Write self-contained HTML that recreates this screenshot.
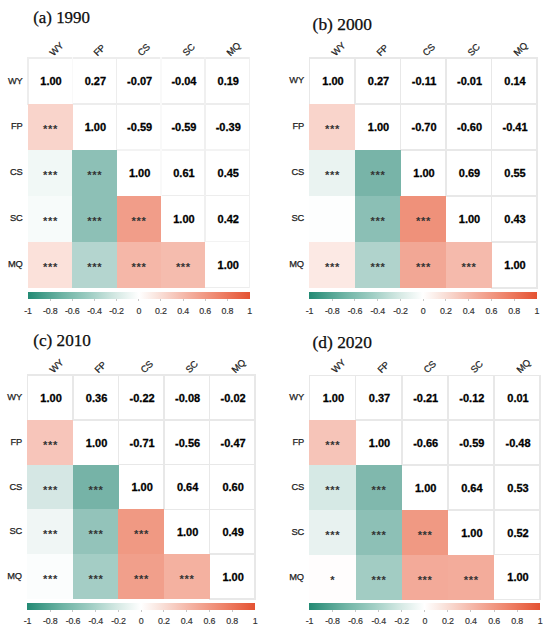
<!DOCTYPE html>
<html><head><meta charset="utf-8"><title>Correlation matrices</title>
<style>
html,body{margin:0;padding:0;background:#fff;}
body{width:550px;height:635px;position:relative;overflow:hidden;font-family:"Liberation Sans",sans-serif;}
.a{position:absolute;}
.t{position:absolute;font-family:"Liberation Serif",serif;font-size:17px;-webkit-text-stroke:0.25px #000;color:#111;white-space:nowrap;line-height:1;}
.c{position:absolute;}
.n{position:absolute;font-weight:bold;font-size:11px;color:#000;-webkit-text-stroke:0.28px #000;text-align:center;line-height:12px;}
.s{position:absolute;font-weight:bold;font-size:11.2px;color:#333;letter-spacing:0.6px;text-indent:0.6px;text-align:center;line-height:12px;}
.rl{position:absolute;font-size:9.3px;color:#222;-webkit-text-stroke:0.25px #222;text-align:right;line-height:11px;width:30px;letter-spacing:-0.2px;}
.cl{position:absolute;font-size:9.4px;color:#222;-webkit-text-stroke:0.25px #222;line-height:11px;white-space:nowrap;transform:rotate(-45deg);transform-origin:0 100%;letter-spacing:-0.2px;}
.hl{position:absolute;height:1.6px;background:#e8e8e8;}
.vl{position:absolute;width:1.6px;background:#e8e8e8;}
.cb{position:absolute;}
.tk{position:absolute;width:1px;height:2px;background:#c8c8c8;}
.lb{position:absolute;font-size:8.9px;color:#303030;-webkit-text-stroke:0.15px #303030;text-align:center;width:30px;line-height:11px;letter-spacing:-0.2px;}
</style></head><body>

<div class="t" style="left:33.20px;top:10.46px;font-size:16.90px;">(a) 1990</div>
<div class="hl" style="left:27.20px;top:57.20px;width:223.10px;background:#ededed;"></div>
<div class="hl" style="left:71.50px;top:103.10px;width:178.80px;background:#ededed;"></div>
<div class="hl" style="left:115.80px;top:149.00px;width:134.50px;background:#f3f3f3;"></div>
<div class="hl" style="left:160.10px;top:194.90px;width:90.20px;background:#ededed;"></div>
<div class="hl" style="left:204.40px;top:240.80px;width:45.90px;background:#f3f3f3;"></div>
<div class="hl" style="left:204.40px;top:286.70px;width:45.90px;background:#ededed;"></div>
<div class="vl" style="left:27.20px;top:57.20px;height:47.50px;background:#ededed;"></div>
<div class="vl" style="left:71.50px;top:57.20px;height:47.50px;background:#f9f9f9;"></div>
<div class="vl" style="left:115.80px;top:57.20px;height:93.40px;background:#ededed;"></div>
<div class="vl" style="left:160.10px;top:57.20px;height:139.30px;background:#f9f9f9;"></div>
<div class="vl" style="left:204.40px;top:57.20px;height:185.20px;background:#f0f0f0;"></div>
<div class="vl" style="left:248.70px;top:57.20px;height:231.10px;background:#f0f0f0;"></div>
<div class="c" style="left:28.00px;top:103.90px;width:44.60px;height:46.20px;background:rgb(249,212,203);"></div>
<div class="c" style="left:28.00px;top:149.80px;width:44.60px;height:46.20px;background:rgb(241,248,246);"></div>
<div class="c" style="left:72.30px;top:149.80px;width:44.60px;height:46.20px;background:rgb(141,192,182);"></div>
<div class="c" style="left:28.00px;top:195.70px;width:44.60px;height:46.20px;background:rgb(247,251,250);"></div>
<div class="c" style="left:72.30px;top:195.70px;width:44.60px;height:46.20px;background:rgb(141,192,182);"></div>
<div class="c" style="left:116.60px;top:195.70px;width:44.60px;height:46.20px;background:rgb(241,157,137);"></div>
<div class="c" style="left:28.00px;top:241.60px;width:44.60px;height:46.20px;background:rgb(251,225,218);"></div>
<div class="c" style="left:72.30px;top:241.60px;width:44.60px;height:46.20px;background:rgb(180,213,207);"></div>
<div class="c" style="left:116.60px;top:241.60px;width:44.60px;height:46.20px;background:rgb(245,183,168);"></div>
<div class="c" style="left:160.90px;top:241.60px;width:44.60px;height:46.20px;background:rgb(245,188,174);"></div>
<div class="n" style="left:28.90px;top:75.35px;width:44.30px;">1.00</div>
<div class="n" style="left:73.20px;top:75.35px;width:44.30px;">0.27</div>
<div class="n" style="left:117.50px;top:75.35px;width:44.30px;">-0.07</div>
<div class="n" style="left:161.80px;top:75.35px;width:44.30px;">-0.04</div>
<div class="n" style="left:206.10px;top:75.35px;width:44.30px;">0.19</div>
<div class="s" style="left:28.00px;top:123.45px;width:44.30px;">***</div>
<div class="n" style="left:73.20px;top:121.25px;width:44.30px;">1.00</div>
<div class="n" style="left:117.50px;top:121.25px;width:44.30px;">-0.59</div>
<div class="n" style="left:161.80px;top:121.25px;width:44.30px;">-0.59</div>
<div class="n" style="left:206.10px;top:121.25px;width:44.30px;">-0.39</div>
<div class="s" style="left:28.00px;top:169.35px;width:44.30px;">***</div>
<div class="s" style="left:72.30px;top:169.35px;width:44.30px;">***</div>
<div class="n" style="left:117.50px;top:167.15px;width:44.30px;">1.00</div>
<div class="n" style="left:161.80px;top:167.15px;width:44.30px;">0.61</div>
<div class="n" style="left:206.10px;top:167.15px;width:44.30px;">0.45</div>
<div class="s" style="left:28.00px;top:215.25px;width:44.30px;">***</div>
<div class="s" style="left:72.30px;top:215.25px;width:44.30px;">***</div>
<div class="s" style="left:116.60px;top:215.25px;width:44.30px;">***</div>
<div class="n" style="left:161.80px;top:213.05px;width:44.30px;">1.00</div>
<div class="n" style="left:206.10px;top:213.05px;width:44.30px;">0.42</div>
<div class="s" style="left:28.00px;top:261.15px;width:44.30px;">***</div>
<div class="s" style="left:72.30px;top:261.15px;width:44.30px;">***</div>
<div class="s" style="left:116.60px;top:261.15px;width:44.30px;">***</div>
<div class="s" style="left:160.90px;top:261.15px;width:44.30px;">***</div>
<div class="n" style="left:206.10px;top:258.95px;width:44.30px;">1.00</div>
<div class="rl" style="left:-7.50px;top:75.55px;">WY</div>
<div class="rl" style="left:-7.50px;top:121.45px;">FP</div>
<div class="rl" style="left:-7.50px;top:167.35px;">CS</div>
<div class="rl" style="left:-7.50px;top:213.25px;">SC</div>
<div class="rl" style="left:-7.50px;top:259.15px;">MQ</div>
<div class="cl" style="left:54.75px;top:47.10px;">WY</div>
<div class="cl" style="left:99.05px;top:47.10px;">FP</div>
<div class="cl" style="left:143.35px;top:47.10px;">CS</div>
<div class="cl" style="left:187.65px;top:47.10px;">SC</div>
<div class="cl" style="left:231.95px;top:47.10px;">MQ</div>
<div class="cb" style="left:28.00px;top:292.00px;width:221.50px;height:7.00px;background:linear-gradient(to right,rgb(35,138,116) 0%,rgb(75,160,142) 8%,rgb(112,181,166) 16%,rgb(160,206,196) 28%,rgb(215,234,229) 40%,#fff 50%,rgb(250,232,226) 57%,rgb(244,178,162) 72%,rgb(238,128,102) 87%,rgb(228,82,50) 100%);"></div>
<div class="lb" style="left:13.00px;top:305.50px;">-1</div>
<div class="tk" style="left:49.65px;top:299.00px;"></div>
<div class="lb" style="left:35.15px;top:305.50px;">-0.8</div>
<div class="tk" style="left:71.80px;top:299.00px;"></div>
<div class="lb" style="left:57.30px;top:305.50px;">-0.6</div>
<div class="tk" style="left:93.95px;top:299.00px;"></div>
<div class="lb" style="left:79.45px;top:305.50px;">-0.4</div>
<div class="tk" style="left:116.10px;top:299.00px;"></div>
<div class="lb" style="left:101.60px;top:305.50px;">-0.2</div>
<div class="tk" style="left:138.25px;top:299.00px;"></div>
<div class="lb" style="left:123.75px;top:305.50px;">0</div>
<div class="tk" style="left:160.40px;top:299.00px;"></div>
<div class="lb" style="left:145.90px;top:305.50px;">0.2</div>
<div class="tk" style="left:182.55px;top:299.00px;"></div>
<div class="lb" style="left:168.05px;top:305.50px;">0.4</div>
<div class="tk" style="left:204.70px;top:299.00px;"></div>
<div class="lb" style="left:190.20px;top:305.50px;">0.6</div>
<div class="tk" style="left:226.85px;top:299.00px;"></div>
<div class="lb" style="left:212.35px;top:305.50px;">0.8</div>
<div class="lb" style="left:234.50px;top:305.50px;">1</div>
<div class="t" style="left:312.60px;top:16.31px;font-size:17.40px;">(b) 2000</div>
<div class="hl" style="left:308.60px;top:57.00px;width:229.10px;background:#e8e8e8;"></div>
<div class="hl" style="left:354.10px;top:103.00px;width:183.60px;background:#e8e8e8;"></div>
<div class="hl" style="left:399.60px;top:149.00px;width:138.10px;background:#e8e8e8;"></div>
<div class="hl" style="left:445.10px;top:195.00px;width:92.60px;background:#e8e8e8;"></div>
<div class="hl" style="left:490.60px;top:241.00px;width:47.10px;background:#e8e8e8;"></div>
<div class="hl" style="left:490.60px;top:287.00px;width:47.10px;background:#e8e8e8;"></div>
<div class="vl" style="left:308.60px;top:57.00px;height:47.60px;background:#e8e8e8;"></div>
<div class="vl" style="left:354.10px;top:57.00px;height:47.60px;background:#e8e8e8;"></div>
<div class="vl" style="left:399.60px;top:57.00px;height:93.60px;background:#e8e8e8;"></div>
<div class="vl" style="left:445.10px;top:57.00px;height:139.60px;background:#e8e8e8;"></div>
<div class="vl" style="left:490.60px;top:57.00px;height:185.60px;background:#e8e8e8;"></div>
<div class="vl" style="left:536.10px;top:57.00px;height:231.60px;background:#e8e8e8;"></div>
<div class="c" style="left:309.40px;top:103.80px;width:45.80px;height:46.30px;background:rgb(249,212,203);"></div>
<div class="c" style="left:309.40px;top:149.80px;width:45.80px;height:46.30px;background:rgb(234,243,241);"></div>
<div class="c" style="left:354.90px;top:149.80px;width:45.80px;height:46.30px;background:rgb(120,180,168);"></div>
<div class="c" style="left:309.40px;top:195.80px;width:45.80px;height:46.30px;background:rgb(253,254,254);"></div>
<div class="c" style="left:354.90px;top:195.80px;width:45.80px;height:46.30px;background:rgb(139,191,181);"></div>
<div class="c" style="left:400.40px;top:195.80px;width:45.80px;height:46.30px;background:rgb(239,145,122);"></div>
<div class="c" style="left:309.40px;top:241.80px;width:45.80px;height:46.30px;background:rgb(252,233,228);"></div>
<div class="c" style="left:354.90px;top:241.80px;width:45.80px;height:46.30px;background:rgb(176,211,204);"></div>
<div class="c" style="left:400.40px;top:241.80px;width:45.80px;height:46.30px;background:rgb(242,167,149);"></div>
<div class="c" style="left:445.90px;top:241.80px;width:45.80px;height:46.30px;background:rgb(245,186,172);"></div>
<div class="n" style="left:310.30px;top:75.20px;width:45.50px;">1.00</div>
<div class="n" style="left:355.80px;top:75.20px;width:45.50px;">0.27</div>
<div class="n" style="left:401.30px;top:75.20px;width:45.50px;">-0.11</div>
<div class="n" style="left:446.80px;top:75.20px;width:45.50px;">-0.01</div>
<div class="n" style="left:492.30px;top:75.20px;width:45.50px;">0.14</div>
<div class="s" style="left:309.40px;top:123.40px;width:45.50px;">***</div>
<div class="n" style="left:355.80px;top:121.20px;width:45.50px;">1.00</div>
<div class="n" style="left:401.30px;top:121.20px;width:45.50px;">-0.70</div>
<div class="n" style="left:446.80px;top:121.20px;width:45.50px;">-0.60</div>
<div class="n" style="left:492.30px;top:121.20px;width:45.50px;">-0.41</div>
<div class="s" style="left:309.40px;top:169.40px;width:45.50px;">***</div>
<div class="s" style="left:354.90px;top:169.40px;width:45.50px;">***</div>
<div class="n" style="left:401.30px;top:167.20px;width:45.50px;">1.00</div>
<div class="n" style="left:446.80px;top:167.20px;width:45.50px;">0.69</div>
<div class="n" style="left:492.30px;top:167.20px;width:45.50px;">0.55</div>
<div class="s" style="left:354.90px;top:215.40px;width:45.50px;">***</div>
<div class="s" style="left:400.40px;top:215.40px;width:45.50px;">***</div>
<div class="n" style="left:446.80px;top:213.20px;width:45.50px;">1.00</div>
<div class="n" style="left:492.30px;top:213.20px;width:45.50px;">0.43</div>
<div class="s" style="left:309.40px;top:261.40px;width:45.50px;">***</div>
<div class="s" style="left:354.90px;top:261.40px;width:45.50px;">***</div>
<div class="s" style="left:400.40px;top:261.40px;width:45.50px;">***</div>
<div class="s" style="left:445.90px;top:261.40px;width:45.50px;">***</div>
<div class="n" style="left:492.30px;top:259.20px;width:45.50px;">1.00</div>
<div class="rl" style="left:273.90px;top:75.40px;">WY</div>
<div class="rl" style="left:273.90px;top:121.40px;">FP</div>
<div class="rl" style="left:273.90px;top:167.40px;">CS</div>
<div class="rl" style="left:273.90px;top:213.40px;">SC</div>
<div class="rl" style="left:273.90px;top:259.40px;">MQ</div>
<div class="cl" style="left:336.75px;top:46.90px;">WY</div>
<div class="cl" style="left:382.25px;top:46.90px;">FP</div>
<div class="cl" style="left:427.75px;top:46.90px;">CS</div>
<div class="cl" style="left:473.25px;top:46.90px;">SC</div>
<div class="cl" style="left:518.75px;top:46.90px;">MQ</div>
<div class="cb" style="left:309.40px;top:292.00px;width:227.50px;height:7.00px;background:linear-gradient(to right,rgb(35,138,116) 0%,rgb(75,160,142) 8%,rgb(112,181,166) 16%,rgb(160,206,196) 28%,rgb(215,234,229) 40%,#fff 50%,rgb(250,232,226) 57%,rgb(244,178,162) 72%,rgb(238,128,102) 87%,rgb(228,82,50) 100%);"></div>
<div class="lb" style="left:294.40px;top:305.50px;">-1</div>
<div class="tk" style="left:331.65px;top:299.00px;"></div>
<div class="lb" style="left:317.15px;top:305.50px;">-0.8</div>
<div class="tk" style="left:354.40px;top:299.00px;"></div>
<div class="lb" style="left:339.90px;top:305.50px;">-0.6</div>
<div class="tk" style="left:377.15px;top:299.00px;"></div>
<div class="lb" style="left:362.65px;top:305.50px;">-0.4</div>
<div class="tk" style="left:399.90px;top:299.00px;"></div>
<div class="lb" style="left:385.40px;top:305.50px;">-0.2</div>
<div class="tk" style="left:422.65px;top:299.00px;"></div>
<div class="lb" style="left:408.15px;top:305.50px;">0</div>
<div class="tk" style="left:445.40px;top:299.00px;"></div>
<div class="lb" style="left:430.90px;top:305.50px;">0.2</div>
<div class="tk" style="left:468.15px;top:299.00px;"></div>
<div class="lb" style="left:453.65px;top:305.50px;">0.4</div>
<div class="tk" style="left:490.90px;top:299.00px;"></div>
<div class="lb" style="left:476.40px;top:305.50px;">0.6</div>
<div class="tk" style="left:513.65px;top:299.00px;"></div>
<div class="lb" style="left:499.15px;top:305.50px;">0.8</div>
<div class="lb" style="left:521.90px;top:305.50px;">1</div>
<div class="t" style="left:33.20px;top:332.09px;font-size:17.20px;">(c) 2010</div>
<div class="hl" style="left:26.60px;top:374.20px;width:229.20px;background:#e8e8e8;"></div>
<div class="hl" style="left:72.12px;top:419.00px;width:183.68px;background:#e8e8e8;"></div>
<div class="hl" style="left:117.64px;top:463.80px;width:138.16px;background:#e8e8e8;"></div>
<div class="hl" style="left:163.16px;top:508.60px;width:92.64px;background:#e8e8e8;"></div>
<div class="hl" style="left:208.68px;top:553.40px;width:47.12px;background:#e8e8e8;"></div>
<div class="hl" style="left:208.68px;top:598.20px;width:47.12px;background:#e8e8e8;"></div>
<div class="vl" style="left:26.60px;top:374.20px;height:46.40px;background:#e8e8e8;"></div>
<div class="vl" style="left:72.12px;top:374.20px;height:46.40px;background:#e8e8e8;"></div>
<div class="vl" style="left:117.64px;top:374.20px;height:91.20px;background:#e8e8e8;"></div>
<div class="vl" style="left:163.16px;top:374.20px;height:136.00px;background:#e8e8e8;"></div>
<div class="vl" style="left:208.68px;top:374.20px;height:180.80px;background:#e8e8e8;"></div>
<div class="vl" style="left:254.20px;top:374.20px;height:225.60px;background:#e8e8e8;"></div>
<div class="c" style="left:27.40px;top:419.80px;width:45.82px;height:45.10px;background:rgb(247,197,186);"></div>
<div class="c" style="left:27.40px;top:464.60px;width:45.82px;height:45.10px;background:rgb(213,231,228);"></div>
<div class="c" style="left:72.92px;top:464.60px;width:45.82px;height:45.10px;background:rgb(118,179,167);"></div>
<div class="c" style="left:27.40px;top:509.40px;width:45.82px;height:45.10px;background:rgb(240,246,245);"></div>
<div class="c" style="left:72.92px;top:509.40px;width:45.82px;height:45.10px;background:rgb(147,195,186);"></div>
<div class="c" style="left:118.44px;top:509.40px;width:45.82px;height:45.10px;background:rgb(240,153,131);"></div>
<div class="c" style="left:27.40px;top:554.20px;width:45.82px;height:45.10px;background:rgb(251,253,253);"></div>
<div class="c" style="left:72.92px;top:554.20px;width:45.82px;height:45.10px;background:rgb(164,205,197);"></div>
<div class="c" style="left:118.44px;top:554.20px;width:45.82px;height:45.10px;background:rgb(241,159,139);"></div>
<div class="c" style="left:163.96px;top:554.20px;width:45.82px;height:45.10px;background:rgb(244,177,160);"></div>
<div class="n" style="left:28.30px;top:391.80px;width:45.52px;">1.00</div>
<div class="n" style="left:73.82px;top:391.80px;width:45.52px;">0.36</div>
<div class="n" style="left:119.34px;top:391.80px;width:45.52px;">-0.22</div>
<div class="n" style="left:164.86px;top:391.80px;width:45.52px;">-0.08</div>
<div class="n" style="left:210.38px;top:391.80px;width:45.52px;">-0.02</div>
<div class="s" style="left:27.40px;top:438.80px;width:45.52px;">***</div>
<div class="n" style="left:73.82px;top:436.60px;width:45.52px;">1.00</div>
<div class="n" style="left:119.34px;top:436.60px;width:45.52px;">-0.71</div>
<div class="n" style="left:164.86px;top:436.60px;width:45.52px;">-0.56</div>
<div class="n" style="left:210.38px;top:436.60px;width:45.52px;">-0.47</div>
<div class="s" style="left:27.40px;top:483.60px;width:45.52px;">***</div>
<div class="s" style="left:72.92px;top:483.60px;width:45.52px;">***</div>
<div class="n" style="left:119.34px;top:481.40px;width:45.52px;">1.00</div>
<div class="n" style="left:164.86px;top:481.40px;width:45.52px;">0.64</div>
<div class="n" style="left:210.38px;top:481.40px;width:45.52px;">0.60</div>
<div class="s" style="left:27.40px;top:528.40px;width:45.52px;">***</div>
<div class="s" style="left:72.92px;top:528.40px;width:45.52px;">***</div>
<div class="s" style="left:118.44px;top:528.40px;width:45.52px;">***</div>
<div class="n" style="left:164.86px;top:526.20px;width:45.52px;">1.00</div>
<div class="n" style="left:210.38px;top:526.20px;width:45.52px;">0.49</div>
<div class="s" style="left:27.40px;top:573.20px;width:45.52px;">***</div>
<div class="s" style="left:72.92px;top:573.20px;width:45.52px;">***</div>
<div class="s" style="left:118.44px;top:573.20px;width:45.52px;">***</div>
<div class="s" style="left:163.96px;top:573.20px;width:45.52px;">***</div>
<div class="n" style="left:210.38px;top:571.00px;width:45.52px;">1.00</div>
<div class="rl" style="left:-8.10px;top:392.00px;">WY</div>
<div class="rl" style="left:-8.10px;top:436.80px;">FP</div>
<div class="rl" style="left:-8.10px;top:481.60px;">CS</div>
<div class="rl" style="left:-8.10px;top:526.40px;">SC</div>
<div class="rl" style="left:-8.10px;top:571.20px;">MQ</div>
<div class="cl" style="left:54.76px;top:364.10px;">WY</div>
<div class="cl" style="left:100.28px;top:364.10px;">FP</div>
<div class="cl" style="left:145.80px;top:364.10px;">CS</div>
<div class="cl" style="left:191.32px;top:364.10px;">SC</div>
<div class="cl" style="left:236.84px;top:364.10px;">MQ</div>
<div class="cb" style="left:27.40px;top:603.00px;width:227.60px;height:7.00px;background:linear-gradient(to right,rgb(35,138,116) 0%,rgb(75,160,142) 8%,rgb(112,181,166) 16%,rgb(160,206,196) 28%,rgb(215,234,229) 40%,#fff 50%,rgb(250,232,226) 57%,rgb(244,178,162) 72%,rgb(238,128,102) 87%,rgb(228,82,50) 100%);"></div>
<div class="lb" style="left:12.40px;top:616.30px;">-1</div>
<div class="tk" style="left:49.66px;top:610.00px;"></div>
<div class="lb" style="left:35.16px;top:616.30px;">-0.8</div>
<div class="tk" style="left:72.42px;top:610.00px;"></div>
<div class="lb" style="left:57.92px;top:616.30px;">-0.6</div>
<div class="tk" style="left:95.18px;top:610.00px;"></div>
<div class="lb" style="left:80.68px;top:616.30px;">-0.4</div>
<div class="tk" style="left:117.94px;top:610.00px;"></div>
<div class="lb" style="left:103.44px;top:616.30px;">-0.2</div>
<div class="tk" style="left:140.70px;top:610.00px;"></div>
<div class="lb" style="left:126.20px;top:616.30px;">0</div>
<div class="tk" style="left:163.46px;top:610.00px;"></div>
<div class="lb" style="left:148.96px;top:616.30px;">0.2</div>
<div class="tk" style="left:186.22px;top:610.00px;"></div>
<div class="lb" style="left:171.72px;top:616.30px;">0.4</div>
<div class="tk" style="left:208.98px;top:610.00px;"></div>
<div class="lb" style="left:194.48px;top:616.30px;">0.6</div>
<div class="tk" style="left:231.74px;top:610.00px;"></div>
<div class="lb" style="left:217.24px;top:616.30px;">0.8</div>
<div class="lb" style="left:240.00px;top:616.30px;">1</div>
<div class="t" style="left:312.50px;top:333.61px;font-size:17.40px;">(d) 2020</div>
<div class="hl" style="left:308.60px;top:374.50px;width:232.40px;background:#e8e8e8;"></div>
<div class="hl" style="left:354.76px;top:419.32px;width:186.24px;background:#e8e8e8;"></div>
<div class="hl" style="left:400.92px;top:464.14px;width:140.08px;background:#e8e8e8;"></div>
<div class="hl" style="left:447.08px;top:508.96px;width:93.92px;background:#e8e8e8;"></div>
<div class="hl" style="left:493.24px;top:553.78px;width:47.76px;background:#e8e8e8;"></div>
<div class="hl" style="left:493.24px;top:598.60px;width:47.76px;background:#e8e8e8;"></div>
<div class="vl" style="left:308.60px;top:374.50px;height:46.42px;background:#e8e8e8;"></div>
<div class="vl" style="left:354.76px;top:374.50px;height:46.42px;background:#e8e8e8;"></div>
<div class="vl" style="left:400.92px;top:374.50px;height:91.24px;background:#e8e8e8;"></div>
<div class="vl" style="left:447.08px;top:374.50px;height:136.06px;background:#e8e8e8;"></div>
<div class="vl" style="left:493.24px;top:374.50px;height:180.88px;background:#e8e8e8;"></div>
<div class="vl" style="left:539.40px;top:374.50px;height:225.70px;background:#e8e8e8;"></div>
<div class="c" style="left:309.40px;top:420.12px;width:46.46px;height:45.12px;background:rgb(246,196,184);"></div>
<div class="c" style="left:309.40px;top:464.94px;width:46.46px;height:45.12px;background:rgb(214,233,229);"></div>
<div class="c" style="left:355.56px;top:464.94px;width:46.46px;height:45.12px;background:rgb(128,184,173);"></div>
<div class="c" style="left:309.40px;top:509.76px;width:46.46px;height:45.12px;background:rgb(232,242,240);"></div>
<div class="c" style="left:355.56px;top:509.76px;width:46.46px;height:45.12px;background:rgb(141,192,182);"></div>
<div class="c" style="left:401.72px;top:509.76px;width:46.46px;height:45.12px;background:rgb(240,153,131);"></div>
<div class="c" style="left:309.40px;top:554.58px;width:46.46px;height:45.12px;background:rgb(255,253,253);"></div>
<div class="c" style="left:355.56px;top:554.58px;width:46.46px;height:45.12px;background:rgb(162,204,195);"></div>
<div class="c" style="left:401.72px;top:554.58px;width:46.46px;height:45.12px;background:rgb(243,170,153);"></div>
<div class="c" style="left:447.88px;top:554.58px;width:46.46px;height:45.12px;background:rgb(243,172,155);"></div>
<div class="n" style="left:310.30px;top:392.11px;width:46.16px;">1.00</div>
<div class="n" style="left:356.46px;top:392.11px;width:46.16px;">0.37</div>
<div class="n" style="left:402.62px;top:392.11px;width:46.16px;">-0.21</div>
<div class="n" style="left:448.78px;top:392.11px;width:46.16px;">-0.12</div>
<div class="n" style="left:494.94px;top:392.11px;width:46.16px;">0.01</div>
<div class="s" style="left:309.40px;top:439.13px;width:46.16px;">***</div>
<div class="n" style="left:356.46px;top:436.93px;width:46.16px;">1.00</div>
<div class="n" style="left:402.62px;top:436.93px;width:46.16px;">-0.66</div>
<div class="n" style="left:448.78px;top:436.93px;width:46.16px;">-0.59</div>
<div class="n" style="left:494.94px;top:436.93px;width:46.16px;">-0.48</div>
<div class="s" style="left:309.40px;top:483.95px;width:46.16px;">***</div>
<div class="s" style="left:355.56px;top:483.95px;width:46.16px;">***</div>
<div class="n" style="left:402.62px;top:481.75px;width:46.16px;">1.00</div>
<div class="n" style="left:448.78px;top:481.75px;width:46.16px;">0.64</div>
<div class="n" style="left:494.94px;top:481.75px;width:46.16px;">0.53</div>
<div class="s" style="left:309.40px;top:528.77px;width:46.16px;">***</div>
<div class="s" style="left:355.56px;top:528.77px;width:46.16px;">***</div>
<div class="s" style="left:401.72px;top:528.77px;width:46.16px;">***</div>
<div class="n" style="left:448.78px;top:526.57px;width:46.16px;">1.00</div>
<div class="n" style="left:494.94px;top:526.57px;width:46.16px;">0.52</div>
<div class="s" style="left:309.40px;top:573.59px;width:46.16px;">*</div>
<div class="s" style="left:355.56px;top:573.59px;width:46.16px;">***</div>
<div class="s" style="left:401.72px;top:573.59px;width:46.16px;">***</div>
<div class="s" style="left:447.88px;top:573.59px;width:46.16px;">***</div>
<div class="n" style="left:494.94px;top:571.39px;width:46.16px;">1.00</div>
<div class="rl" style="left:273.90px;top:392.31px;">WY</div>
<div class="rl" style="left:273.90px;top:437.13px;">FP</div>
<div class="rl" style="left:273.90px;top:481.95px;">CS</div>
<div class="rl" style="left:273.90px;top:526.77px;">SC</div>
<div class="rl" style="left:273.90px;top:571.59px;">MQ</div>
<div class="cl" style="left:337.08px;top:364.40px;">WY</div>
<div class="cl" style="left:383.24px;top:364.40px;">FP</div>
<div class="cl" style="left:429.40px;top:364.40px;">CS</div>
<div class="cl" style="left:475.56px;top:364.40px;">SC</div>
<div class="cl" style="left:521.72px;top:364.40px;">MQ</div>
<div class="cb" style="left:309.40px;top:603.00px;width:230.80px;height:7.00px;background:linear-gradient(to right,rgb(35,138,116) 0%,rgb(75,160,142) 8%,rgb(112,181,166) 16%,rgb(160,206,196) 28%,rgb(215,234,229) 40%,#fff 50%,rgb(250,232,226) 57%,rgb(244,178,162) 72%,rgb(238,128,102) 87%,rgb(228,82,50) 100%);"></div>
<div class="lb" style="left:294.40px;top:616.30px;">-1</div>
<div class="tk" style="left:331.98px;top:610.00px;"></div>
<div class="lb" style="left:317.48px;top:616.30px;">-0.8</div>
<div class="tk" style="left:355.06px;top:610.00px;"></div>
<div class="lb" style="left:340.56px;top:616.30px;">-0.6</div>
<div class="tk" style="left:378.14px;top:610.00px;"></div>
<div class="lb" style="left:363.64px;top:616.30px;">-0.4</div>
<div class="tk" style="left:401.22px;top:610.00px;"></div>
<div class="lb" style="left:386.72px;top:616.30px;">-0.2</div>
<div class="tk" style="left:424.30px;top:610.00px;"></div>
<div class="lb" style="left:409.80px;top:616.30px;">0</div>
<div class="tk" style="left:447.38px;top:610.00px;"></div>
<div class="lb" style="left:432.88px;top:616.30px;">0.2</div>
<div class="tk" style="left:470.46px;top:610.00px;"></div>
<div class="lb" style="left:455.96px;top:616.30px;">0.4</div>
<div class="tk" style="left:493.54px;top:610.00px;"></div>
<div class="lb" style="left:479.04px;top:616.30px;">0.6</div>
<div class="tk" style="left:516.62px;top:610.00px;"></div>
<div class="lb" style="left:502.12px;top:616.30px;">0.8</div>
<div class="lb" style="left:525.20px;top:616.30px;">1</div>
</body></html>
